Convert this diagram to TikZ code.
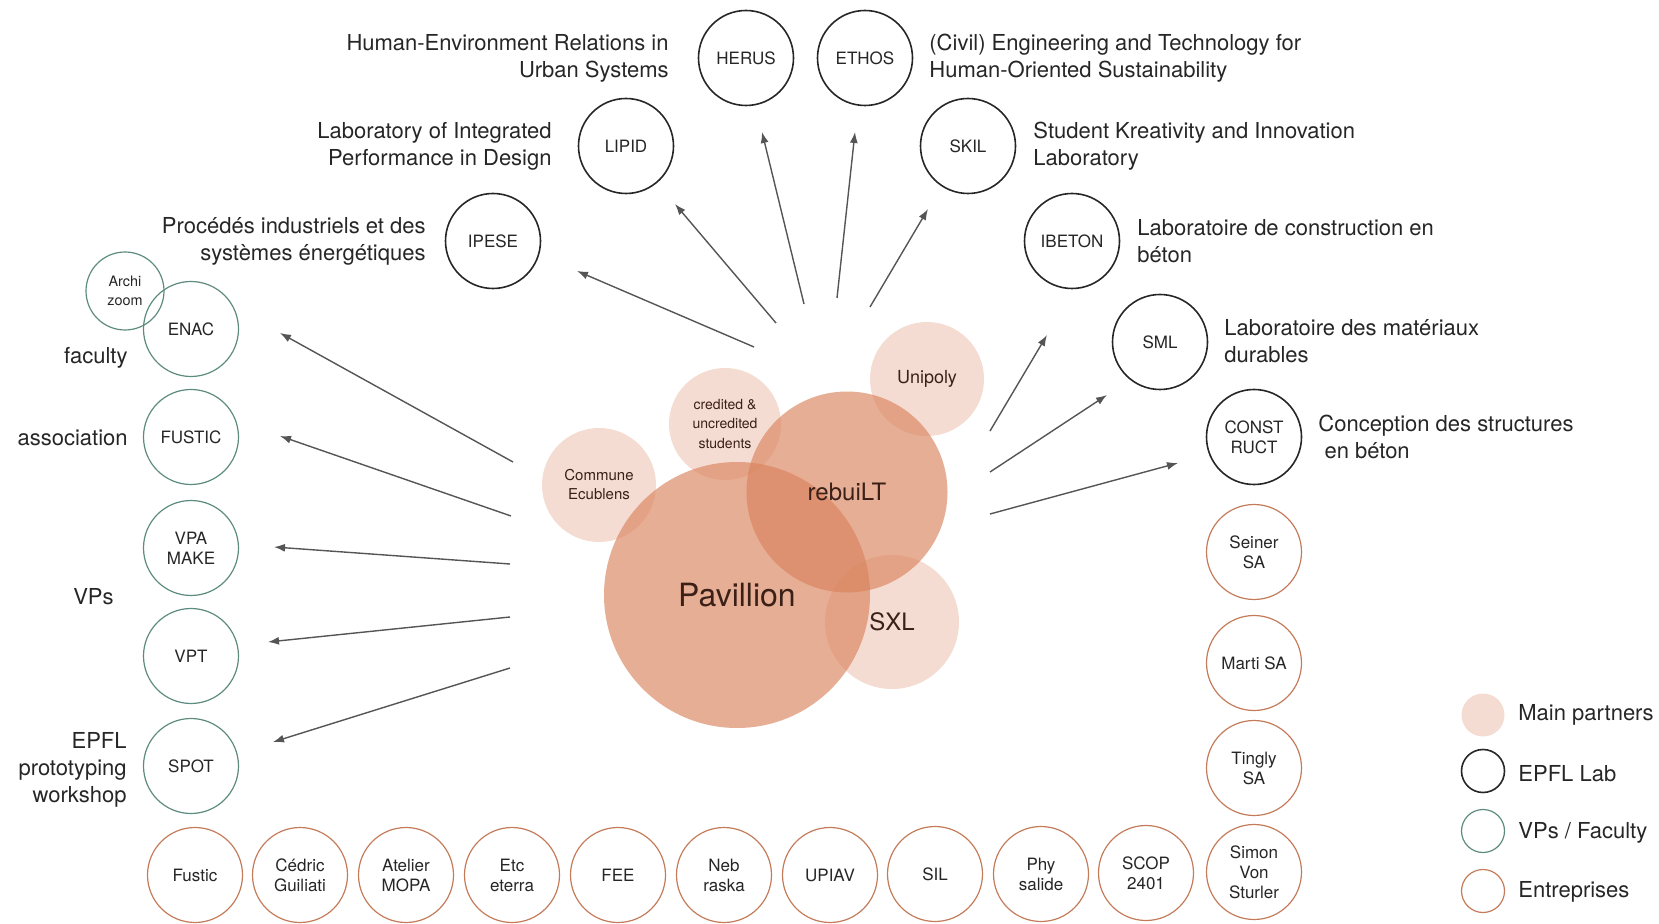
\documentclass[tikz,border=0pt]{standalone}
\usepackage{fontspec}
\setmainfont{TeX Gyre Heros}
\usetikzlibrary{arrows.meta}
\definecolor{labline}{HTML}{262626}
\definecolor{vpline}{HTML}{5E8B7F}
\definecolor{entline}{HTML}{C47B5A}
\definecolor{partnerfill}{HTML}{D9825C}
\definecolor{arrowgray}{HTML}{555555}
\definecolor{partnertext}{HTML}{3B2018}

\begin{document}
\begin{tikzpicture}[x=0.5pt,y=-0.5pt]
	\tikzstyle{lab}=[circle,draw=labline,line width=0.8pt,minimum size=47.5pt,inner sep=0pt,align=center,text=black!85,font=\fontsize{8.5}{10}\selectfont]
	\tikzstyle{vp}=[lab,draw=vpline,line width=0.6pt]
	\tikzstyle{firm}=[lab,draw=entline,line width=0.6pt]
	\tikzstyle{partner}=[circle,fill=partnerfill,fill opacity=0.28,text opacity=1,inner sep=0pt,align=center,text=partnertext]
	\tikzstyle{main}=[partner,fill opacity=0.65]
	\tikzstyle{desc}=[inner sep=0pt,yshift=-1.5pt,text=black!85,font=\fontsize{11}{13.5}\selectfont]
	\tikzstyle{arr}=[draw=arrowgray,line width=0.7pt,-{Latex[length=5.5pt,width=4pt]}]
	\useasboundingbox (0,0) rectangle (1659,924);

	\node[partner,minimum size=57pt,font=\fontsize{7.5}{9.5}\selectfont] (commune) at (599,485) {Commune\\Ecublens};
	\node[partner,minimum size=56pt,font=\fontsize{7}{9.75}\selectfont] (students) at (725,424) {credited \&\\uncredited\\students};
	\node[partner,minimum size=57pt,font=\fontsize{9}{11}\selectfont] (unipoly) at (927,379) {Unipoly};
	\node[main,minimum size=133pt,font=\fontsize{16}{19}\selectfont] (pavillion) at (737,595) {Pavillion};
	\node[main,minimum size=100.5pt,font=\fontsize{12}{14}\selectfont] (rebuilt) at (847,492) {rebuiLT};
	\node[partner,minimum size=67pt,font=\fontsize{12}{14}\selectfont] (sxl) at (892,622) {SXL};

	\node[lab] (herus) at (746,58) {HERUS};
	\node[lab] (ethos) at (865,58) {ETHOS};
	\node[lab] (lipid) at (626,146) {LIPID};
	\node[lab] (skil) at (968,146) {SKIL};
	\node[lab] (ipese) at (493,241) {IPESE};
	\node[lab] (ibeton) at (1072,241) {IBETON};
	\node[lab] (sml) at (1160,342) {SML};
	\node[lab] (construct) at (1254,437) {CONST\\RUCT};

	\node[desc,anchor=east,align=right] (herusdesc) at (669,55) {Human-Environment Relations in\\Urban Systems};
	\node[desc,anchor=east,align=right] (lipiddesc) at (552,143) {Laboratory of Integrated\\Performance in Design};
	\node[desc,anchor=east,align=right] (ipesedesc) at (426,238) {Procédés industriels et des\\systèmes énergétiques};
	\node[desc,anchor=west,align=left] (ethosdesc) at (929,55) {(Civil) Engineering and Technology for\\Human-Oriented Sustainability};
	\node[desc,anchor=west,align=left] (skildesc) at (1033,143) {Student Kreativity and Innovation\\Laboratory};
	\node[desc,anchor=west,align=left] (ibetondesc) at (1137,238) {Laboratoire de construction en\\béton};
	\node[desc,anchor=west,align=left] (smldesc) at (1224,338) {Laboratoire des matériaux\\durables};
	\node[desc,anchor=west,align=left] (constructdesc) at (1318,434) {Conception des structures\\\ en béton};

	\node[vp,minimum size=39pt,font=\fontsize{7.2}{9.5}\selectfont] (archizoom) at (125,291) {Archi\\zoom};
	\node[vp] (enac) at (191,329) {ENAC};
	\node[vp] (fustic) at (191,437) {FUSTIC};
	\node[vp] (vpa) at (191,548) {VPA\\MAKE};
	\node[vp] (vpt) at (191,656) {VPT};
	\node[vp] (spot) at (191,766) {SPOT};

	\node[desc,anchor=east] (faculty) at (128,355) {faculty};
	\node[desc,anchor=east] (association) at (128,435) {association};
	\node[desc,anchor=east] (vps) at (114,594) {VPs};
	\node[desc,anchor=east,align=right] (workshop) at (127,767) {EPFL\\prototyping\\workshop};

	\node[firm] (fusticsa) at (195,875) {Fustic};
	\node[firm] (guiliati) at (300,875) {Cédric\\Guiliati};
	\node[firm] (mopa) at (406,875) {Atelier\\MOPA};
	\node[firm] (eterra) at (512,875) {Etc\\eterra};
	\node[firm] (fee) at (618,875) {FEE};
	\node[firm] (nebraska) at (724,875) {Neb\\raska};
	\node[firm] (upiav) at (830,875) {UPIAV};
	\node[firm] (sil) at (935,874) {SIL};
	\node[firm] (physalide) at (1041,874) {Phy\\salide};
	\node[firm] (scop) at (1146,873) {SCOP\\2401};
	\node[firm] (vonsturler) at (1254,872) {Simon\\Von\\Sturler};
	\node[firm] (seiner) at (1254,552) {Seiner\\SA};
	\node[firm] (marti) at (1254,663) {Marti SA};
	\node[firm] (tingly) at (1254,768) {Tingly\\SA};

	\coordinate (from-enac) at (513,462);
	\coordinate (to-enac) at (280,333);
	\coordinate (from-fustic) at (511,516);
	\coordinate (to-fustic) at (280,436);
	\coordinate (from-vpa) at (510,564);
	\coordinate (to-vpa) at (274,547);
	\coordinate (from-vpt) at (510,617);
	\coordinate (to-vpt) at (268,642);
	\coordinate (from-spot) at (510,668);
	\coordinate (to-spot) at (273,742);
	\coordinate (from-ipese) at (754,347);
	\coordinate (to-ipese) at (577,271);
	\coordinate (from-lipid) at (776,323);
	\coordinate (to-lipid) at (675,204);
	\coordinate (from-herus) at (804,304);
	\coordinate (to-herus) at (762,132);
	\coordinate (from-ethos) at (837,298);
	\coordinate (to-ethos) at (855,132);
	\coordinate (from-skil) at (870,307);
	\coordinate (to-skil) at (928,209);
	\coordinate (from-ibeton) at (990,431);
	\coordinate (to-ibeton) at (1047,335);
	\coordinate (from-sml) at (990,472);
	\coordinate (to-sml) at (1107,395);
	\coordinate (from-construct) at (990,514);
	\coordinate (to-construct) at (1178,463);
	\foreach \n in {enac,fustic,vpa,vpt,spot,ipese,lipid,herus,ethos,skil,ibeton,sml,construct}
		\draw[arr] (from-\n) -- (to-\n);

	\node[partner,minimum size=21.5pt] (keymain) at (1483,715) {};
	\node[lab,minimum size=21.5pt] (keylab) at (1483,771) {};
	\node[vp,minimum size=21.5pt] (keyvp) at (1483,831) {};
	\node[firm,minimum size=21.5pt] (keyfirm) at (1483,891) {};
	\node[desc,anchor=west] (keymaintext) at (1518,712) {Main partners};
	\node[desc,anchor=west] (keylabtext) at (1518,771) {EPFL Lab};
	\node[desc,anchor=west] (keyvptext) at (1518,830) {VPs / Faculty};
	\node[desc,anchor=west] (keyfirmtext) at (1518,889) {Entreprises};
\end{tikzpicture}
\end{document}
